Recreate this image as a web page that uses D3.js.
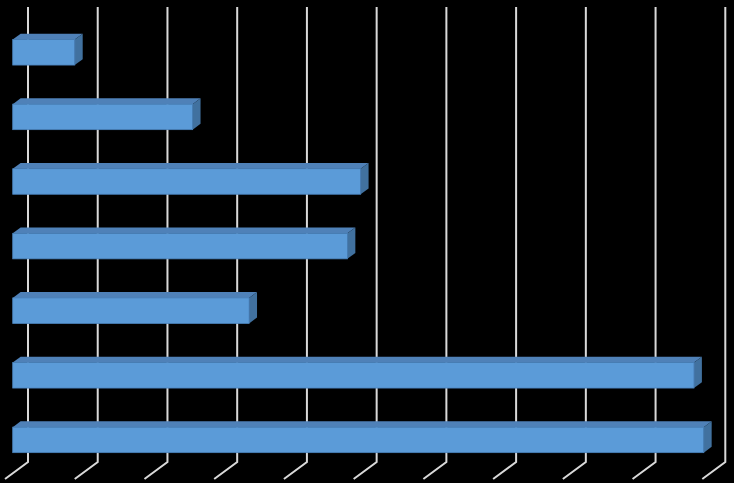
<!DOCTYPE html>
<html lang="en">
  <head>
    <meta charset="utf-8">
    <title>3D bar chart</title>
    <script src="https://d3js.org/d3.v7.min.js"></script>
    <style>
      body { margin: 0; background: #000; }
      svg { display: block; }
    </style>
  </head>
  <body>
    <svg id="plotarea" width="734" height="483"></svg>
    <script>
      // chart data, top bar first
      var categories = ["1", "2", "3", "4", "5", "6", "7"];
      var values = [0.89, 2.58, 4.99, 4.80, 3.39, 9.77, 9.91];
      var ticks = [0, 1, 2, 3, 4, 5, 6, 7, 8, 9, 10];

      var svg = d3.select('#plotarea');

      // back wall scale (where the gridlines sit)
      var x = d3.scaleLinear().domain([0, 10]).range([28, 725.3]);
      var wallTop = 7, wallBottom = 462;
      // floor depth vector (back wall -> front edge)
      var floorDx = -23, floorDy = 17;
      // bars sit between these fractions of the depth
      var front = 0.665, back = 0.32;
      var fx = floorDx * front;
      var sideDx = floorDx * (back - front), sideDy = floorDy * (back - front);

      var y = d3.scaleBand().domain(categories)
        .range([20, 472.2]).paddingInner(0.605).paddingOuter(0.3025);

      // gridlines: vertical on the wall, then slanting across the floor
      svg.append('g').selectAll('path')
        .data(ticks)
        .enter()
        .append('path')
        .attr('d', function(d) {
          var gx = x(d);
          return 'M' + gx + ',' + wallTop + 'L' + gx + ',' + wallBottom +
                 'L' + (gx + floorDx) + ',' + (wallBottom + floorDy);
        })
        .attr('fill', 'none')
        .attr('stroke', '#d9d9d9')
        .attr('stroke-width', 2);

      var bars = svg.append('g').selectAll('g')
        .data(values)
        .enter()
        .append('g');

      function x0() { return x(0) + fx; }
      function x1(d) { return x(d) + fx; }
      function barTop(d, i) { return y(categories[i]); }
      var h = y.bandwidth();

      // top face
      bars.append('path')
        .attr('d', function(d, i) {
          var t = barTop(d, i);
          return 'M' + x0() + ',' + t + 'L' + (x0() + sideDx) + ',' + (t + sideDy) +
                 'L' + (x1(d) + sideDx) + ',' + (t + sideDy) + 'L' + x1(d) + ',' + t + 'Z';
        })
        .attr('fill', '#4f81b8');

      // side face
      bars.append('path')
        .attr('d', function(d, i) {
          var t = barTop(d, i);
          return 'M' + x1(d) + ',' + t + 'L' + (x1(d) + sideDx) + ',' + (t + sideDy) +
                 'L' + (x1(d) + sideDx) + ',' + (t + sideDy + h) + 'L' + x1(d) + ',' + (t + h) + 'Z';
        })
        .attr('fill', '#41719f');

      // front face
      bars.append('rect')
        .attr('x', x0())
        .attr('y', function(d, i) { return barTop(d, i); })
        .attr('width', function(d) { return x1(d) - x0(); })
        .attr('height', h)
        .attr('fill', '#5b9bd8')
        .attr('stroke', '#4a82bb')
        .attr('stroke-width', 0.8);
    </script>
  </body>
</html>
